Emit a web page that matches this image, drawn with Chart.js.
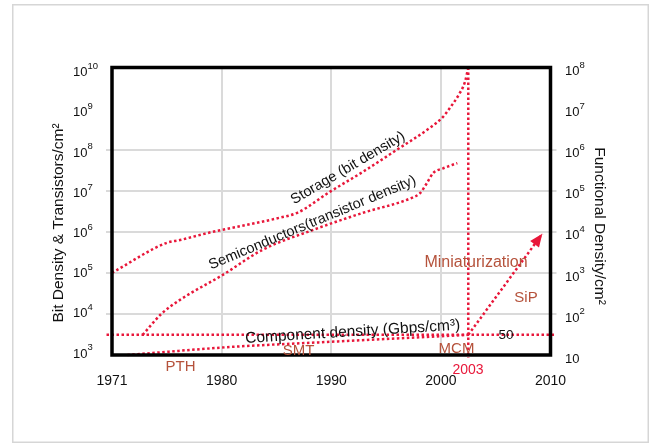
<!DOCTYPE html>
<html><head><meta charset="utf-8">
<script src="https://cdn.jsdelivr.net/npm/chart.js@4"></script>
<style>html,body{margin:0;padding:0;background:#fff}#wrap{width:649px;height:448px;position:relative}</style>
</head><body><div id="wrap"><canvas id="c" width="649" height="448"></canvas></div>
<script>
// ---- data ----
const storageYears  = [1970, 1975, 1976.2, 1979.2, 1982.3, 1985.3, 1986.9, 1989.9, 1992.9, 1996, 1999, 2000.2, 2000.8, 2001.6, 2002.2, 2002.5];
const storageValues = [1e5, 5.4e5, 6.3e5, 1e6, 1.48e6, 2.2e6, 2.9e6, 9.5e6, 2.9e7, 1e8, 3.4e8, 6.3e8, 1.02e9, 2.1e9, 4.5e9, 1e10];
const semiYears  = [1972.8, 1974.5, 1976.2, 1980.1, 1983.7, 1988.3, 1992.9, 1997.4, 1998.1, 1998.7, 1999.3, 2000.2, 2001.5];
const semiValues = [3.1e3, 1e4, 2.2e4, 8.9e4, 3.6e5, 1.1e6, 2.9e6, 6.8e6, 8.7e6, 1.5e7, 2.7e7, 3.5e7, 4.7e7];
const componentYears  = [1971.4, 1981, 1990, 2002.5];
const componentValues = [1e3, 1.58e3, 2.1e3, 3.1e3];
const baselineYears  = [1969.5, 2010.4];
const baselineValues = [3.1e3, 3.1e3];
const markerYears  = [2002.5, 2002.5];
const markerValues = [1e10, 850];
const sipYears  = [2002.5, 2009.25];
const sipValues = [3.1e3, 8.9e5];

const xTickValues = [1970, 1980, 1990, 2000, 2010];
const xTickLabels = ['1971', '1980', '1990', '2000', '2010'];
const leftTickExps  = [3, 4, 5, 6, 7, 8, 9, 10];
const rightTickExps = [1, 2, 3, 4, 5, 6, 7, 8];
const leftGridValues  = [1e4, 1e5, 1e6, 1e7, 1e8];
const rightGridValues = [1e2, 1e3, 1e4, 1e5, 1e6];

const RED = '#e8173a', BROWN = '#b5523b', GRID = '#dadada', INK = '#111';
const FONT = '"Liberation Sans", Arial, Helvetica, sans-serif';

const toPts = (xs, ys) => xs.map((x, i) => ({x: x, y: ys[i]}));
const dotted = {borderColor: RED, borderWidth: 2.5, borderDash: [2.5, 2.5], pointRadius: 0, fill: false, clip: false};

const deco = {
  id: 'deco',
  beforeDraw(chart) {
    const c = chart.ctx;
    c.save();
    c.fillStyle = '#fff'; c.fillRect(0, 0, chart.width, chart.height);
    c.strokeStyle = '#d6d6d6'; c.lineWidth = 1.5;
    c.strokeRect(12.75, 4.75, 635.5, 437.5);
    c.restore();
  },
  afterDatasetsDraw(chart) {
    const c = chart.ctx, a = chart.chartArea;
    c.save();
    // frame
    c.strokeStyle = '#000'; c.lineWidth = 3.5;
    c.strokeRect(a.left, a.top, a.right - a.left, a.bottom - a.top);
    // arrow head on SiP line
    const meta = chart.getDatasetMeta(5);
    const p1 = meta.data[0], p2 = meta.data[meta.data.length - 1];
    const ang = Math.atan2(p2.y - p1.y, p2.x - p1.x);
    const L = 13, W = 5.5;
    c.fillStyle = RED;
    c.beginPath();
    c.moveTo(p2.x, p2.y);
    c.lineTo(p2.x - L * Math.cos(ang) + W * Math.sin(ang), p2.y - L * Math.sin(ang) - W * Math.cos(ang));
    c.lineTo(p2.x - L * Math.cos(ang) - W * Math.sin(ang), p2.y - L * Math.sin(ang) + W * Math.cos(ang));
    c.closePath(); c.fill();
    c.restore();
  },
  afterDraw(chart) {
    const c = chart.ctx;
    const xs = chart.scales.x, ys = chart.scales.y, y2 = chart.scales.y2;
    c.save();
    c.fillStyle = INK;
    // left tick labels 10^n
    leftTickExps.forEach(e => {
      const cy = ys.getPixelForValue(Math.pow(10, e)) + (-2 + (e - 3) * 6 / 7);
      c.font = '13px ' + FONT; c.textAlign = 'left'; c.textBaseline = 'alphabetic';
      c.fillText('10', 73, cy + 4.7);
      const w = c.measureText('10').width;
      c.font = '9.5px ' + FONT;
      c.fillText(String(e), 73 + w, cy - 6 + 3.4);
    });
    // right tick labels
    rightTickExps.forEach(e => {
      const cy = y2.getPixelForValue(Math.pow(10, e)) + 3;
      c.font = '13px ' + FONT; c.textAlign = 'left'; c.textBaseline = 'alphabetic';
      c.fillText('10', 565, cy + 4.7);
      if (e > 1) {
        const w = c.measureText('10').width;
        c.font = '9.5px ' + FONT;
        c.fillText(String(e), 565 + w, cy - 6 + 3.4);
      }
    });
    // x tick labels
    c.font = '14px ' + FONT; c.textAlign = 'center'; c.textBaseline = 'alphabetic';
    xTickValues.forEach((v, i) => c.fillText(xTickLabels[i], xs.getPixelForValue(v), 385));
    // axis titles
    c.font = '15.5px ' + FONT;
    c.save(); c.translate(63.4, 223); c.rotate(-Math.PI / 2);
    c.fillText('Bit Density & Transistors/cm\u00B2', 0, 0); c.restore();
    c.save(); c.translate(595, 226); c.rotate(Math.PI / 2);
    c.fillText('Functional Density/cm\u00B2', 0, 0); c.restore();
    // curve labels
    const rot = (txt, x, y, deg, size) => {
      c.save(); c.translate(x, y); c.rotate(deg * Math.PI / 180);
      c.font = size + 'px ' + FONT; c.textAlign = 'center'; c.textBaseline = 'alphabetic';
      c.fillText(txt, 0, 0); c.restore();
    };
    rot('Storage (bit density)', 350, 171.5, -30.5, 14.5);
    rot('Semiconductors(transistor density)', 314, 226.5, -22.7, 14.5);
    rot('Component density (Gbps/cm\u00B3)', 353, 336.2, -3.6, 15.5);
    // technology labels
    c.textAlign = 'center'; c.fillStyle = BROWN;
    c.font = '16px ' + FONT; c.fillText('Miniaturization', 476, 267);
    c.font = '15px ' + FONT;
    c.fillText('SiP', 526, 302);
    c.fillText('MCM', 456.5, 353);
    c.fillText('SMT', 298.5, 355);
    c.fillText('PTH', 180.5, 371);
    c.fillStyle = RED; c.font = '14px ' + FONT;
    c.fillText('2003', 468, 374);
    c.fillStyle = INK; c.font = '13.5px ' + FONT;
    c.fillText('50', 506, 339);
    c.restore();
  }
};

new Chart(document.getElementById('c'), {
  type: 'line',
  data: {
    datasets: [
      Object.assign({label: 'Storage', data: toPts(storageYears, storageValues), cubicInterpolationMode: 'monotone'}, dotted),
      Object.assign({label: 'Semiconductors', data: toPts(semiYears, semiValues), cubicInterpolationMode: 'monotone'}, dotted),
      Object.assign({label: 'Component', data: toPts(componentYears, componentValues), cubicInterpolationMode: 'monotone'}, dotted),
      Object.assign({label: 'Baseline', data: toPts(baselineYears, baselineValues)}, dotted),
      Object.assign({label: '2003', data: toPts(markerYears, markerValues)}, dotted),
      Object.assign({label: 'SiP', data: toPts(sipYears, sipValues)}, dotted)
    ]
  },
  options: {
    responsive: false, animation: false, devicePixelRatio: 1,
    layout: {padding: {left: 106, right: 92.5, top: 67.5, bottom: 93}},
    plugins: {legend: {display: false}, tooltip: {enabled: false}},
    scales: {
      x: {
        type: 'linear', min: 1970, max: 2010,
        afterBuildTicks: s => { s.ticks = xTickValues.map(v => ({value: v})); },
        ticks: {display: false}, border: {display: false},
        grid: {color: ctx => (ctx.tick && (ctx.tick.value === 1970 || ctx.tick.value === 2010)) ? 'rgba(0,0,0,0)' : GRID, lineWidth: 2, drawTicks: false}
      },
      y: {
        type: 'logarithmic', position: 'left', min: 1e3, max: 1e10,
        afterBuildTicks: s => { s.ticks = leftGridValues.map(v => ({value: v})); },
        ticks: {display: false}, border: {display: false},
        grid: {color: GRID, lineWidth: 2, drawTicks: true, tickLength: 6, tickColor: GRID, tickWidth: 2}
      },
      y2: {
        type: 'logarithmic', position: 'right', min: 10, max: 1e8,
        afterBuildTicks: s => { s.ticks = rightGridValues.map(v => ({value: v})); },
        ticks: {display: false}, border: {display: false},
        grid: {drawOnChartArea: false, color: GRID, lineWidth: 2, drawTicks: true, tickLength: 6, tickColor: GRID, tickWidth: 2}
      }
    }
  },
  plugins: [deco]
});
</script>
</body></html>
